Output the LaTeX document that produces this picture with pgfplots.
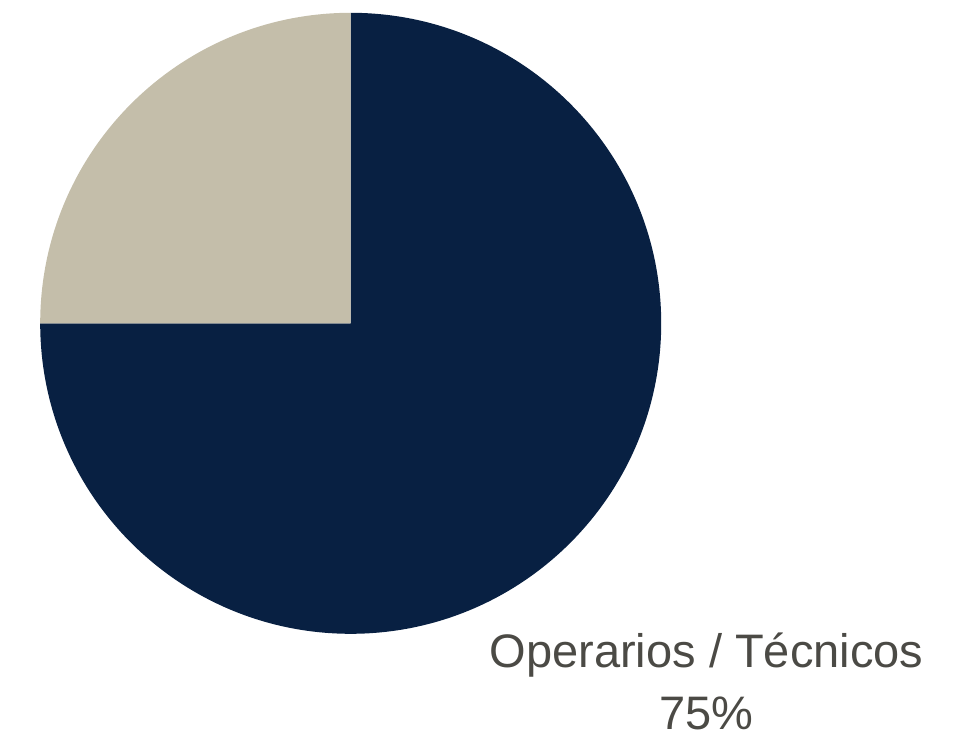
\documentclass[border=0pt]{standalone}
\usepackage{fontspec}
\setmainfont{Liberation Sans}
\usepackage{pgfplots}
\usepackage{pgfplotstable}
\pgfplotsset{compat=1.18}

\definecolor{navy}{HTML}{082042}
\definecolor{sand}{HTML}{C4BEAA}
\definecolor{labelgray}{HTML}{4B4A45}

% pie shares
\pgfplotstableread{
name value
Operarios 75
Otros 25
}\piedata

\begin{document}
\begin{tikzpicture}
\pgfplotstablegetelem{0}{value}\of\piedata \let\va\pgfplotsretval
\pgfplotstablegetelem{1}{value}\of\piedata \let\vb\pgfplotsretval
\pgfmathsetmacro\ang{360*(\va/(\va+\vb))}
\begin{axis}[
  x=1bp, y=1bp,
  xmin=0, xmax=953, ymin=0, ymax=731,
  y dir=reverse,
  hide axis, clip=false,
]
\coordinate (c) at (axis cs:350.7,323.3);
\coordinate (bl) at (axis cs:0,731);
\coordinate (tr) at (axis cs:953,0);
% slices, clockwise from 12 o'clock
\fill[navy] (c) -- ([shift={(90:310.5bp)}]c)
  arc[start angle=90, end angle=90-\ang, radius=310.5bp] -- cycle;
\fill[sand] (c) -- ([shift={(90-\ang:310.5bp)}]c)
  arc[start angle=90-\ang, end angle=-270, radius=310.5bp] -- cycle;
% label
\node[anchor=base, inner sep=0, text=labelgray, font=\fontsize{47bp}{56bp}\selectfont]
  at (axis cs:706.5,667) {Operarios / Técnicos};
\node[anchor=base, inner sep=0, text=labelgray, font=\fontsize{47bp}{56bp}\selectfont]
  at (axis cs:706.7,729.5) {\va\%};
\end{axis}
\pgfresetboundingbox
\path (bl) rectangle (tr);
\end{tikzpicture}
\end{document}
